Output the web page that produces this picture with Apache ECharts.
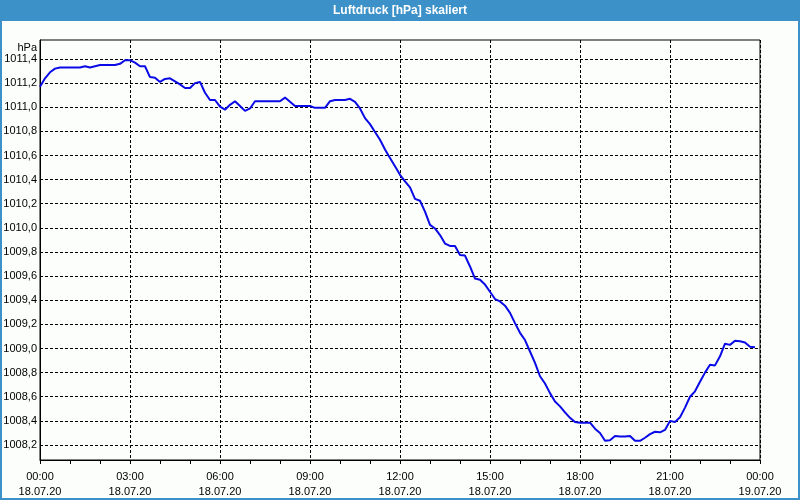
<!DOCTYPE html>
<html>
<head>
<meta charset="utf-8">
<script src="https://cdn.jsdelivr.net/npm/echarts@6/dist/echarts.min.js"></script>
<style>html,body{margin:0;padding:0;background:#fcfefc;}#c{width:800px;height:500px;}</style>
</head>
<body>
<div id="c"></div>
<script>
// --- data ---
var chartTitle = 'Luftdruck [hPa] skaliert';
var unitName = 'hPa';
var startMinute = 0;        // 18.07.20 00:00
var stepMinutes = 10;       // sampling interval
var pressure = [
1011.17,1011.24,1011.29,1011.32,1011.33,1011.33,1011.33,1011.33,1011.33,1011.34,
1011.33,1011.34,1011.35,1011.35,1011.35,1011.35,1011.36,1011.39,1011.39,1011.37,
1011.34,1011.34,1011.25,1011.245,1011.21,1011.235,1011.24,1011.215,1011.19,1011.16,
1011.16,1011.20,1011.21,1011.12,1011.06,1011.06,1011.005,1010.98,1011.02,1011.05,
1011.01,1010.97,1010.99,1011.05,1011.05,1011.05,1011.05,1011.05,1011.05,1011.08,
1011.045,1011.01,1011.01,1011.01,1011.01,1010.995,1010.995,1010.995,1011.05,1011.06,
1011.06,1011.06,1011.07,1011.045,1010.99,1010.91,1010.86,1010.795,1010.73,1010.65,
1010.58,1010.51,1010.44,1010.385,1010.335,1010.24,1010.225,1010.135,1010.025,1009.995,
1009.94,1009.87,1009.85,1009.85,1009.775,1009.77,1009.68,1009.58,1009.57,1009.53,
1009.47,1009.41,1009.39,1009.355,1009.295,1009.21,1009.13,1009.07,1008.975,1008.88,
1008.77,1008.71,1008.63,1008.56,1008.52,1008.47,1008.425,1008.39,1008.385,1008.385,
1008.385,1008.335,1008.30,1008.235,1008.24,1008.275,1008.27,1008.27,1008.275,1008.235,
1008.235,1008.26,1008.29,1008.31,1008.305,1008.325,1008.40,1008.39,1008.43,1008.51,
1008.60,1008.645,1008.725,1008.80,1008.865,1008.86,1008.935,1009.04,1009.03,1009.065,
1009.06,1009.05,1009.015,1009.01
];
var yTickValues = [1008.2,1008.4,1008.6,1008.8,1009.0,1009.2,1009.4,1009.6,1009.8,1010.0,1010.2,1010.4,1010.6,1010.8,1011.0,1011.2,1011.4];
var yMin = 1008.0756, yMax = 1011.5575;
var xTickLabels = ['00:00\n18.07.20','03:00\n18.07.20','06:00\n18.07.20','09:00\n18.07.20','12:00\n18.07.20','15:00\n18.07.20','18:00\n18.07.20','21:00\n18.07.20','00:00\n19.07.20'];

var seriesData = pressure.map(function (v, i) { return [startMinute + i * stepMinutes, v]; });

var blue = '#3c91c9';
var font = 'Liberation Sans';
var chart = echarts.init(document.getElementById('c'), null, {renderer: 'canvas'});
chart.setOption({
  animation: false,
  backgroundColor: '#fcfefc',
  title: {
    text: chartTitle, left: 'center', top: 3, padding: 0,
    textStyle: {color: '#ffffff', fontFamily: font, fontWeight: 'bold', fontSize: 12, lineHeight: 15}
  },
  graphic: [
    {type: 'rect', z: -1, shape: {x: 0, y: 0, width: 800, height: 21}, style: {fill: blue}},
    {type: 'rect', z: 100, shape: {x: 1, y: 1, width: 798, height: 498}, style: {fill: 'none', stroke: blue, lineWidth: 2}}
  ],
  grid: {left: 40, right: 40, top: 40, bottom: 40, show: true, borderColor: '#000', borderWidth: 1, backgroundColor: 'transparent'},
  xAxis: {
    type: 'value', min: 0, max: 1440, interval: 180,
    axisLine: {show: true, lineStyle: {color: '#000', width: 1}},
    axisTick: {show: true, length: 4, lineStyle: {color: '#000'}},
    minorTick: {show: true, splitNumber: 3, length: 4, lineStyle: {color: '#000'}},
    axisLabel: {
      color: '#000', fontFamily: font, fontSize: 11, lineHeight: 15, margin: 9,
      formatter: function (v) { return xTickLabels[Math.round(v / 180)]; }
    },
    splitLine: {show: true, lineStyle: {color: '#000', type: [3, 2], width: 1}}
  },
  yAxis: {
    type: 'value', min: yMin, max: yMax,
    name: unitName, nameLocation: 'end', nameGap: -13,
    nameTextStyle: {color: '#000', fontFamily: font, fontSize: 11, align: 'right', padding: [0, 3, 0, 0]},
    axisLine: {show: true, lineStyle: {color: '#000', width: 1}},
    axisTick: {show: true, length: 0, customValues: yTickValues},
    axisLabel: {
      customValues: yTickValues, color: '#000', fontFamily: font, fontSize: 11, margin: 3,
      formatter: function (v) { return v.toFixed(1).replace('.', ','); }
    },
    splitLine: {show: true, lineStyle: {color: '#000', type: [3, 2], width: 1}}
  },
  series: [{
    type: 'line', data: seriesData, showSymbol: false, symbol: 'none',
    lineStyle: {color: '#0a0ae6', width: 2}, clip: true
  }]
});
</script>
</body>
</html>
